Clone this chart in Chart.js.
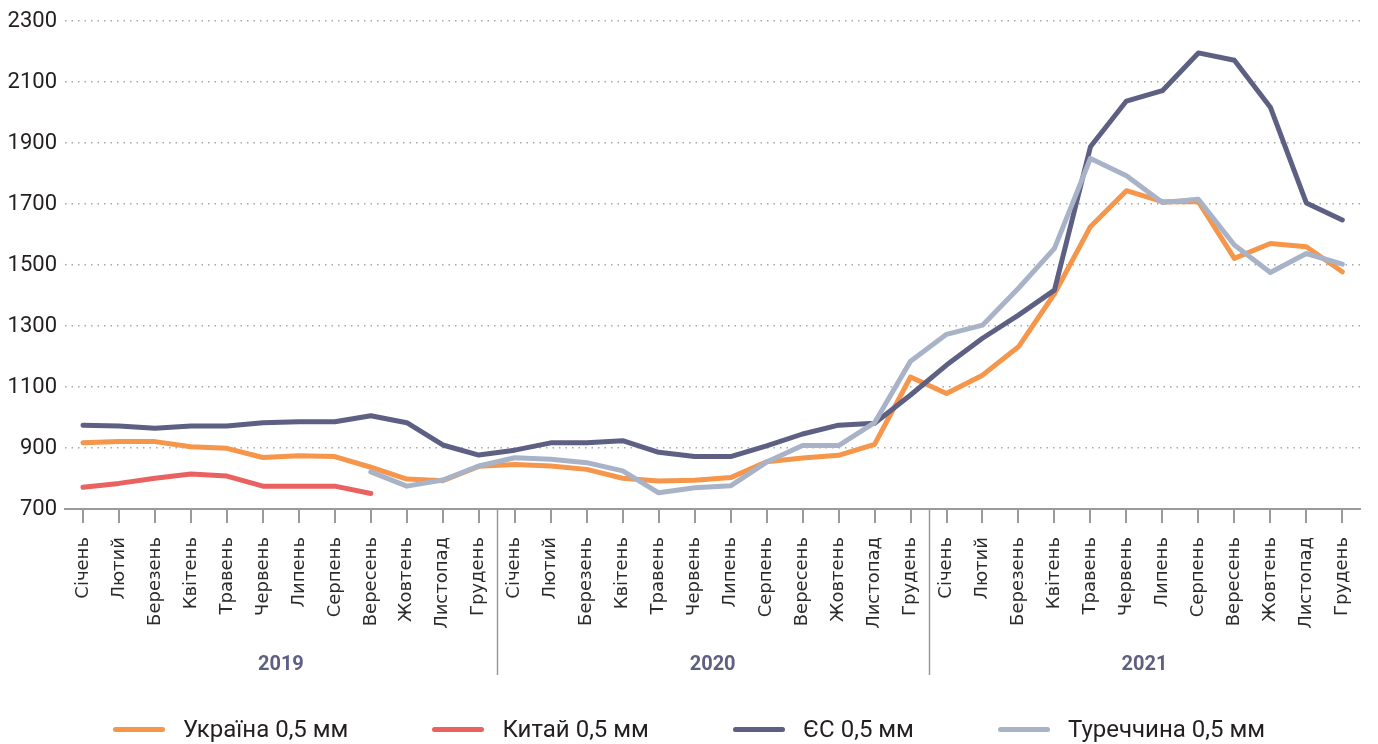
<!DOCTYPE html>
<html>
<head>
<meta charset="utf-8">
<script src="https://cdn.jsdelivr.net/npm/chart.js@4.4.1/dist/chart.umd.min.js"></script>
<style>
  html, body { margin: 0; padding: 0; background: #fff; }
  #wrap { position: relative; width: 1378px; height: 744px; }
  #legend {
    position: absolute; left: 0; right: 0; top: 713px; height: 32px;
    display: flex; justify-content: center; align-items: center;
    font-family: Roboto, "Noto Sans", sans-serif; font-size: 24px; color: #231f20;
  }
  .item { display: flex; align-items: center; margin: 0 42px; white-space: nowrap; }
  .swatch { width: 52px; height: 5px; border-radius: 3px; margin-right: 18px; }
</style>
</head>
<body>
<div id="wrap">
  <canvas id="c" width="1378" height="744"></canvas>
  <div id="legend"></div>
</div>
<script>
// Months and years on the category axis
const months = ['Січень', 'Лютий', 'Березень', 'Квітень', 'Травень', 'Червень',
                'Липень', 'Серпень', 'Вересень', 'Жовтень', 'Листопад', 'Грудень'];
const years = ['2019', '2020', '2021'];

// Y-axis range and step
const yMin = 700;
const yMax = 2300;
const yStep = 200;

// Series values, one per month (null = no data)
const ukraine = [917, 921, 921, 904, 899, 869, 875, 872, 837, 798, 793, 840,
                 846, 841, 830, 801, 792, 794, 803, 855, 867, 876, 912, 1133,
                 1079, 1139, 1232, 1406, 1626, 1744, 1708, 1708, 1522, 1571, 1560, 1478];
const china = [771, 784, 801, 815, 808, 775, 775, 775, 751, null, null, null,
               null, null, null, null, null, null, null, null, null, null, null, null,
               null, null, null, null, null, null, null, null, null, null, null, null];
const eu = [975, 972, 965, 972, 972, 983, 986, 986, 1006, 983, 910, 877,
            893, 917, 917, 924, 886, 872, 872, 907, 946, 975, 981, 1074,
            1172, 1260, 1336, 1418, 1888, 2038, 2072, 2196, 2172, 2018, 1704, 1648];
const turkey = [null, null, null, null, null, null, null, null, 822, 775, 795, 841,
                868, 863, 852, 825, 753, 770, 776, 854, 908, 908, 983, 1185,
                1273, 1303, 1424, 1555, 1850, 1793, 1705, 1716, 1566, 1476, 1538, 1503];

const seriesNames = ['Україна 0,5 мм', 'Китай 0,5 мм', 'ЄС 0,5 мм', 'Туреччина 0,5 мм'];
const seriesColors = ['#f5964a', '#ea625f', '#5d5f83', '#a9b3c8'];

const labels = [];
years.forEach(() => months.forEach(m => labels.push(m)));

function lineSet(i, data, order) {
  return {
    label: seriesNames[i], data,
    borderColor: seriesColors[i], backgroundColor: seriesColors[i],
    borderWidth: 5, pointRadius: 0, pointHoverRadius: 0, tension: 0,
    borderJoinStyle: 'round', borderCapStyle: 'round', spanGaps: false, order
  };
}

// Year separators under the axis and bold year captions
const yearBands = {
  id: 'yearBands',
  afterDraw(chart) {
    const x = chart.scales.x, area = chart.chartArea, ctx = chart.ctx;
    ctx.save();
    ctx.strokeStyle = '#9a9a9a';
    ctx.lineWidth = 1.5;
    for (let k = 1; k < years.length; k++) {
      const i = k * months.length;
      const px = Math.round((x.getPixelForValue(i - 1) + x.getPixelForValue(i)) / 2) + 0.5;
      ctx.beginPath();
      ctx.moveTo(px, area.bottom);
      ctx.lineTo(px, area.bottom + 166);
      ctx.stroke();
    }
    ctx.font = 'bold 20px Roboto, "Noto Sans", sans-serif';
    ctx.fillStyle = '#5d5f83';
    ctx.textAlign = 'center';
    ctx.textBaseline = 'middle';
    years.forEach((yr, k) => {
      const s = k * months.length;
      const px = (x.getPixelForValue(s + 5) + x.getPixelForValue(s + 6)) / 2;
      ctx.fillText(yr, px, area.bottom + 156);
    });
    ctx.restore();
  }
};

new Chart(document.getElementById('c'), {
  type: 'line',
  data: {
    labels,
    datasets: [
      lineSet(0, ukraine, 3),
      lineSet(1, china, 4),
      lineSet(2, eu, 2),
      lineSet(3, turkey, 1)
    ]
  },
  plugins: [yearBands],
  options: {
    responsive: false,
    animation: false,
    devicePixelRatio: 1,
    layout: { padding: { top: 21, right: 7, bottom: 40, left: 0 } },
    plugins: { legend: { display: false }, tooltip: { enabled: false } },
    scales: {
      x: {
        offset: true,
        afterFit(scale) { scale.height = 195; },
        border: { display: true, color: '#9a9a9a', width: 2 },
        grid: { display: true, drawOnChartArea: false, drawTicks: true, tickLength: 14,
                offset: false, color: '#9a9a9a', lineWidth: 2 },
        ticks: {
          autoSkip: false, minRotation: 90, maxRotation: 90, padding: 14,
          color: '#2b2b2b', font: { family: 'DejaVu Sans', size: 18 }
        }
      },
      y: {
        min: yMin, max: yMax,
        afterFit(scale) { scale.width = 65; },
        border: { display: false, dash: [1.5, 5] },
        grid: { color: '#a8a8a8', lineWidth: 1.5, drawTicks: false },
        ticks: {
          stepSize: yStep, padding: 8, color: '#231f20',
          callback: v => String(v),
          font: { family: 'Roboto, "Noto Sans", sans-serif', size: 22 }
        }
      }
    }
  }
});

// Legend row beneath the chart
const legend = document.getElementById('legend');
seriesNames.forEach((name, i) => {
  const item = document.createElement('div');
  item.className = 'item';
  const sw = document.createElement('span');
  sw.className = 'swatch';
  sw.style.background = seriesColors[i];
  const tx = document.createElement('span');
  tx.textContent = name;
  item.appendChild(sw);
  item.appendChild(tx);
  legend.appendChild(item);
});
</script>
</body>
</html>
